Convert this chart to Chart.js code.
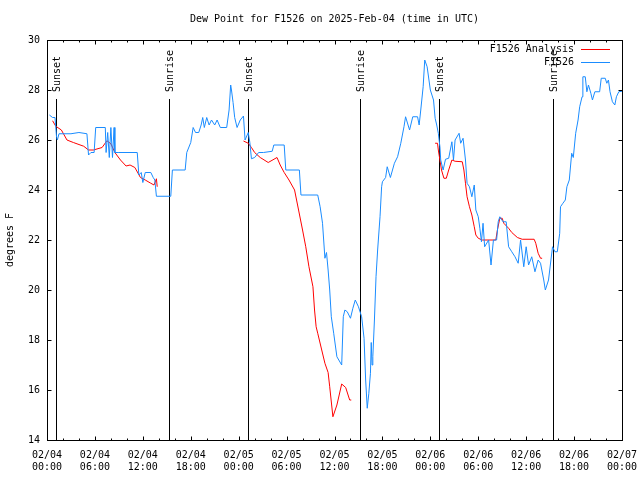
<!DOCTYPE html>
<html>
<head>
<meta charset="utf-8">
<script src="https://cdn.jsdelivr.net/npm/chart.js@4"></script>
<style>
  body { margin: 0; background: #fff; }
  #wrap { width: 640px; height: 480px; }
</style>
</head>
<body>
<div id="wrap"><canvas id="chart" width="640" height="480"></canvas></div>
<script>
// hours since 2025-02-04 00:00 UTC
const obsHours = [0.3,0.7,1.0,1.2,1.3,1.5,3.0,4.0,5.0,5.2,5.5,5.9,6.1,7.3,7.4,7.6,7.8,8.0,8.2,8.4,8.5,9.0,11.3,11.5,11.8,12.0,12.3,13.0,13.3,13.5,13.7,15.5,15.7,17.3,17.5,18.0,18.3,18.6,19.0,19.3,19.5,19.7,20.0,20.3,20.6,21.0,21.3,21.7,22.5,22.8,23.0,23.1,23.3,23.5,23.8,24.2,24.6,24.8,25.2,25.4,25.6,26.0,26.5,27.1,28.2,28.4,29.7,29.9,31.6,31.8,33.9,34.2,34.5,34.8,35.0,35.2,35.4,35.6,35.9,36.3,36.9,37.1,37.3,37.6,38.0,38.3,38.6,39.0,39.4,39.7,39.9,40.1,40.3,40.5,40.6,40.7,40.8,41.0,41.2,41.4,41.7,41.9,42.0,42.4,42.6,43.0,43.5,43.9,44.3,44.7,44.9,45.4,45.8,46.4,46.6,46.8,47.1,47.3,47.6,48.0,48.4,48.6,48.8,49.0,49.2,49.3,49.6,49.9,50.3,50.7,50.9,51.1,51.6,51.8,52.1,52.4,52.6,52.9,53.2,53.5,53.7,54.0,54.2,54.4,54.6,54.8,55.3,55.6,55.9,56.3,56.5,56.7,57.1,57.5,57.8,58.2,58.6,59.0,59.3,59.7,60.0,60.3,60.7,61.1,61.5,61.8,62.2,62.4,62.8,63.1,63.3,63.6,63.9,64.2,64.3,64.6,64.9,65.1,65.4,65.7,65.9,66.2,66.5,66.7,67.0,67.1,67.4,67.6,67.8,68.1,68.3,68.6,69.2,69.4,69.9,70.1,70.3,70.5,70.8,71.1,71.3,71.6,72.0];
const obsDew = [27.0,26.9,26.9,26.1,26.0,26.25,26.25,26.3,26.25,25.4,25.5,25.5,26.5,26.5,25.5,26.3,25.3,26.5,25.3,26.5,25.5,25.5,25.5,24.6,24.7,24.3,24.7,24.7,24.5,24.4,23.75,23.75,24.8,24.8,25.5,25.9,26.5,26.3,26.3,26.6,26.9,26.5,26.9,26.6,26.8,26.6,26.8,26.5,26.5,27.2,28.2,28.0,27.5,26.9,26.5,26.8,26.96,26.0,26.3,25.9,25.25,25.3,25.5,25.5,25.55,25.8,25.8,24.8,24.8,23.8,23.8,23.33,22.67,21.27,21.5,20.8,20.0,18.93,18.27,17.33,17.0,18.93,19.2,19.13,18.87,19.27,19.6,19.33,18.93,18.07,16.4,15.27,15.87,16.67,17.9,17.0,17.33,18.8,20.53,21.6,22.93,24.13,24.33,24.5,24.93,24.5,25.07,25.33,25.87,26.53,26.93,26.4,26.93,26.93,26.6,27.2,28.13,29.2,28.93,28.0,27.6,26.87,26.6,26.27,25.73,25.2,24.8,25.23,25.27,25.93,25.2,26.0,26.27,25.87,26.07,25.2,24.27,24.13,23.73,24.2,23.2,22.93,22.47,21.93,22.67,21.73,22.0,21.0,22.0,22.0,22.73,22.93,22.73,22.73,21.73,21.53,21.33,21.07,22.0,20.93,21.73,21.0,21.33,20.73,21.2,21.07,20.4,20.0,20.4,21.2,21.73,21.53,21.53,22.27,23.33,23.47,23.6,24.13,24.4,25.47,25.3,26.27,26.8,27.33,27.73,28.53,28.53,27.93,28.2,27.87,27.6,27.93,27.93,28.47,28.47,28.27,28.4,27.93,27.53,27.4,27.73,27.93,27.95];

// analysis runs, null = break between runs
const anaHours = [0.7,1.1,1.8,2.5,3.3,4.6,5.2,5.8,6.9,7.5,8.0,8.5,9.2,9.9,10.4,11.0,11.7,12.3,13.0,13.4,13.7,13.8,20.0,24.6,25.2,25.6,26.0,26.7,27.7,28.8,29.2,29.7,30.3,31.0,31.5,32.0,32.4,32.8,33.3,33.5,33.7,33.9,34.4,34.8,35.2,35.4,35.8,36.3,36.9,37.4,37.9,38.1,43.0,48.6,48.9,49.0,49.2,49.4,49.7,50.0,50.3,50.7,51.1,52.0,52.2,52.4,52.6,52.9,53.2,53.5,53.7,54.0,54.5,56.2,56.4,56.7,57.0,57.2,57.8,58.2,58.9,59.5,61.0,61.2,61.5,61.8,62.0];
const anaDew = [26.77,26.55,26.4,26.0,25.9,25.75,25.6,25.6,25.7,25.97,25.85,25.5,25.2,24.96,25.0,24.9,24.5,24.4,24.27,24.2,24.45,24.13,null,25.96,25.87,25.7,25.5,25.3,25.1,25.3,25.0,24.7,24.4,24.0,23.2,22.4,21.73,20.93,20.13,19.2,18.53,18.27,17.6,17.07,16.7,16.13,14.93,15.4,16.24,16.1,15.6,15.6,null,25.87,25.87,25.6,25.2,24.8,24.47,24.47,24.8,25.2,25.15,25.13,24.8,24.27,23.73,23.33,23.0,22.53,22.2,22.07,22.0,22.0,22.4,22.87,22.87,22.67,22.47,22.3,22.1,22.03,22.03,21.87,21.47,21.27,21.27];

const sunHours = [1.17, 15.3, 25.2, 39.2, 49.1, 63.3];
const sunLabels = ['Sunset', 'Sunrise', 'Sunset', 'Sunrise', 'Sunset', 'Sunrise'];

const xTickDates = ['02/04','02/04','02/04','02/04','02/05','02/05','02/05','02/05','02/06','02/06','02/06','02/06','02/07'];
const xTickTimes = ['00:00','06:00','12:00','18:00','00:00','06:00','12:00','18:00','00:00','06:00','12:00','18:00','00:00'];

const chartTitle = 'Dew Point for F1526 on 2025-Feb-04 (time in UTC)';
const MONO = '"DejaVu Sans Mono", "Liberation Mono", monospace';

function pts(xs, ys) {
    return xs.map((x, i) => ({ x: x, y: ys[i] }));
}

// gnuplot style frame, inward tics, sun lines, title and legend
const gnuFrame = {
    id: 'gnuFrame',
    beforeDatasetsDraw(chart) {
        const ctx = chart.ctx, a = chart.chartArea, xs = chart.scales.x;
        ctx.save();
        ctx.strokeStyle = '#000';
        ctx.lineWidth = 1;
        ctx.fillStyle = '#000';
        ctx.font = '10px ' + MONO;
        sunHours.forEach((h, i) => {
            const px = Math.round(xs.getPixelForValue(h)) + 0.5;
            ctx.beginPath();
            ctx.moveTo(px, 99);
            ctx.lineTo(px, a.bottom);
            ctx.stroke();
            ctx.save();
            ctx.translate(px + 1, 92);
            ctx.rotate(-Math.PI / 2);
            ctx.textAlign = 'left';
            ctx.textBaseline = 'middle';
            ctx.fillText(sunLabels[i], 0, 0);
            ctx.restore();
        });
        ctx.restore();
    },
    afterDraw(chart) {
        const ctx = chart.ctx, a = chart.chartArea;
        const xs = chart.scales.x, ys = chart.scales.y;
        ctx.save();
        ctx.strokeStyle = '#000';
        ctx.lineWidth = 1;
        const L = Math.round(a.left) + 0.5, R = Math.round(a.right) + 0.5;
        const T = Math.round(a.top) + 0.5, B = Math.round(a.bottom) + 0.5;
        ctx.strokeRect(L, T, R - L, B - T);
        ctx.beginPath();
        for (let h = 0; h <= 72; h += 2) {
            const px = Math.round(xs.getPixelForValue(h)) + 0.5;
            const len = h % 6 === 0 ? 4 : 2;
            ctx.moveTo(px, B); ctx.lineTo(px, B - len);
            ctx.moveTo(px, T); ctx.lineTo(px, T + len);
        }
        for (let v = 14; v <= 30; v += 2) {
            const py = Math.round(ys.getPixelForValue(v)) + 0.5;
            ctx.moveTo(L, py); ctx.lineTo(L + 4, py);
            ctx.moveTo(R, py); ctx.lineTo(R - 4, py);
        }
        ctx.stroke();

        ctx.font = '10px ' + MONO;
        ctx.fillStyle = '#000';
        ctx.textAlign = 'center';
        ctx.textBaseline = 'middle';
        ctx.fillText(chartTitle, (a.left + a.right) / 2, 19.5);

        // legend
        ctx.textAlign = 'right';
        chart.data.datasets.forEach((ds, i) => {
            const y = 49.5 + 13 * i;
            ctx.fillStyle = '#000';
            ctx.fillText(ds.label, 574, y);
            ctx.strokeStyle = ds.borderColor;
            ctx.beginPath();
            ctx.moveTo(581, y); ctx.lineTo(610, y);
            ctx.stroke();
        });
        ctx.restore();
    }
};

new Chart(document.getElementById('chart'), {
    type: 'line',
    data: {
        datasets: [
            { label: 'F1526 Analysis', data: pts(anaHours, anaDew), borderColor: '#ff0000', borderWidth: 1, pointRadius: 0, spanGaps: false, order: 1 },
            { label: 'F1526', data: pts(obsHours, obsDew), borderColor: '#1a8cff', borderWidth: 1, pointRadius: 0, spanGaps: false, order: 0 }
        ]
    },
    options: {
        responsive: false,
        animation: false,
        layout: { padding: { left: 0, right: 0, top: 40, bottom: 0 } },
        plugins: {
            legend: { display: false },
            tooltip: { enabled: false },
            title: { display: false }
        },
        scales: {
            x: {
                type: 'linear', min: 0, max: 72,
                grid: { display: false, drawTicks: false },
                border: { display: false },
                ticks: {
                    stepSize: 6, padding: 9, maxRotation: 0, autoSkip: false,
                    color: '#000', font: { family: MONO, size: 10 },
                    callback: v => [xTickDates[v / 6], xTickTimes[v / 6]]
                },
                afterFit: s => { s.height = 40; s.paddingLeft = 0; s.paddingRight = 18; }
            },
            y: {
                min: 14, max: 30,
                grid: { display: false, drawTicks: false },
                border: { display: false },
                ticks: { stepSize: 2, padding: 7, color: '#000', font: { family: MONO, size: 10 } },
                title: { display: true, text: 'degrees F', color: '#000', font: { family: MONO, size: 10 }, padding: { top: 4, bottom: 0 } },
                afterFit: s => { s.width = 47; s.paddingTop = 0; s.paddingBottom = 0; }
            }
        }
    },
    plugins: [gnuFrame]
});
</script>
</body>
</html>
